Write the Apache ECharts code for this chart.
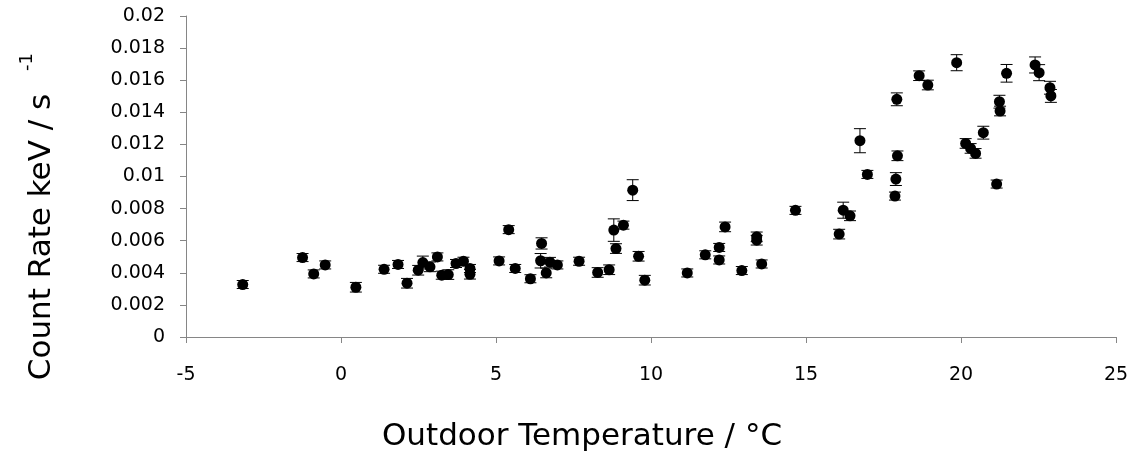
<!DOCTYPE html>
<html>
<head>
<meta charset="utf-8">
<script src="https://cdn.jsdelivr.net/npm/echarts@6/dist/echarts.min.js"></script>
<style>html,body{margin:0;padding:0;background:#fff}#c{width:1147px;height:467px}</style>
</head>
<body>
<div id="c"></div>
<script>
const temperature = [-3.17,-1.24,-0.88,-0.51,0.48,1.39,1.84,2.13,2.49,2.64,2.87,3.11,3.25,3.46,3.71,3.95,4.16,4.16,5.10,5.41,5.62,6.11,6.47,6.44,6.62,6.74,6.98,7.68,8.28,8.65,8.80,9.11,8.87,9.41,9.60,9.80,11.17,11.75,12.20,12.20,12.39,12.93,13.41,13.41,13.57,14.66,16.07,16.20,16.42,16.74,16.98,17.87,17.90,17.95,17.93,18.65,18.93,19.86,20.15,20.31,20.47,20.72,21.15,21.24,21.26,21.47,22.39,22.52,22.87,22.90];
const countRate = [0.00327,0.00495,0.00393,0.00449,0.00310,0.00422,0.00452,0.00335,0.00416,0.00464,0.00437,0.00499,0.00385,0.00389,0.00458,0.00472,0.00427,0.00391,0.00474,0.00669,0.00427,0.00363,0.00583,0.00475,0.00399,0.00466,0.00449,0.00472,0.00402,0.00419,0.00666,0.00697,0.00551,0.00915,0.00503,0.00354,0.00399,0.00512,0.00558,0.00480,0.00686,0.00414,0.00624,0.00603,0.00455,0.00789,0.00641,0.00790,0.00755,0.01223,0.01013,0.00878,0.00984,0.01129,0.01481,0.01628,0.01570,0.01709,0.01206,0.01175,0.01144,0.01273,0.00953,0.01466,0.01408,0.01643,0.01695,0.01647,0.01553,0.01502];
const rateError = [0.00025,0.00025,0.00025,0.00025,0.0003,0.00025,0.00025,0.0003,0.0003,0.0004,0.0003,0.00025,0.00025,0.0003,0.00025,0.00025,0.00025,0.0003,0.00025,0.00025,0.00025,0.00025,0.00035,0.00045,0.0003,0.0003,0.00025,0.00025,0.0003,0.0003,0.0007,0.00025,0.0003,0.00065,0.0003,0.0003,0.00025,0.00025,0.00025,0.00025,0.0003,0.00025,0.0003,0.0003,0.00025,0.00025,0.0003,0.0005,0.0003,0.00075,0.00025,0.00025,0.0004,0.0003,0.0004,0.0003,0.0003,0.0005,0.0003,0.0003,0.0003,0.0004,0.00025,0.0004,0.0003,0.00055,0.0005,0.0005,0.0004,0.0004];
const xTicks = {min: -5, max: 25, interval: 5};
const yTicks = {min: 0, max: 0.02, interval: 0.002};
const xTitle = 'Outdoor Temperature / °C';
const yTitle = 'Count Rate keV / s';
const ySup = '-1';

const pts = temperature.map((t, i) => [t, countRate[i]]);
const errData = temperature.map((t, i) => [t, countRate[i] - rateError[i], countRate[i] + rateError[i]]);

const FONT = '"DejaVu Sans", sans-serif';
const chart = echarts.init(document.getElementById('c'), null, {renderer: 'canvas'});
chart.setOption({
  animation: false,
  backgroundColor: '#fff',
  grid: {left: 186, right: 31, top: 16, bottom: 130, containLabel: false},
  xAxis: {
    type: 'value', min: xTicks.min, max: xTicks.max, interval: xTicks.interval,
    axisLine: {onZero: false, lineStyle: {color: '#868686', width: 1}},
    axisTick: {show: true, inside: false, length: 6, lineStyle: {color: '#868686'}},
    splitLine: {show: false},
    axisLabel: {color: '#000', fontFamily: FONT, fontSize: 19, margin: 29}
  },
  yAxis: {
    type: 'value', min: yTicks.min, max: yTicks.max, interval: yTicks.interval,
    axisLine: {show: true, onZero: false, lineStyle: {color: '#868686', width: 1}},
    axisTick: {show: true, inside: false, length: 6, lineStyle: {color: '#868686'}},
    splitLine: {show: false},
    axisLabel: {color: '#000', fontFamily: FONT, fontSize: 19, margin: 21,
      formatter: v => String(+v.toFixed(4))}
  },
  series: [
    {
      type: 'custom',
      data: errData,
      z: 1,
      renderItem: function (params, api) {
        const x = api.value(0);
        const lo = api.coord([x, api.value(1)]);
        const hi = api.coord([x, api.value(2)]);
        const hw = 6;
        const st = {stroke: '#000', lineWidth: 1};
        return {
          type: 'group',
          children: [
            {type: 'line', shape: {x1: lo[0], y1: lo[1], x2: hi[0], y2: hi[1]}, style: st},
            {type: 'line', shape: {x1: lo[0] - hw, y1: lo[1], x2: lo[0] + hw, y2: lo[1]}, style: st},
            {type: 'line', shape: {x1: hi[0] - hw, y1: hi[1], x2: hi[0] + hw, y2: hi[1]}, style: st}
          ]
        };
      }
    },
    {
      type: 'scatter',
      data: pts,
      z: 2,
      symbol: 'circle',
      symbolSize: 11,
      itemStyle: {color: '#000', opacity: 1}
    }
  ],
  graphic: [
    {type: 'text', x: 582, y: 437, style: {text: xTitle, fill: '#000', font: '31px ' + FONT, align: 'center', verticalAlign: 'middle'}},
    {type: 'text', x: 42, y: 237, rotation: Math.PI / 2, style: {text: yTitle, fill: '#000', font: '31px ' + FONT, align: 'center', verticalAlign: 'middle'}},
    {type: 'text', x: 27, y: 62, rotation: Math.PI / 2, style: {text: ySup, fill: '#000', font: '18px ' + FONT, align: 'center', verticalAlign: 'middle'}}
  ]
});
</script>
</body>
</html>
